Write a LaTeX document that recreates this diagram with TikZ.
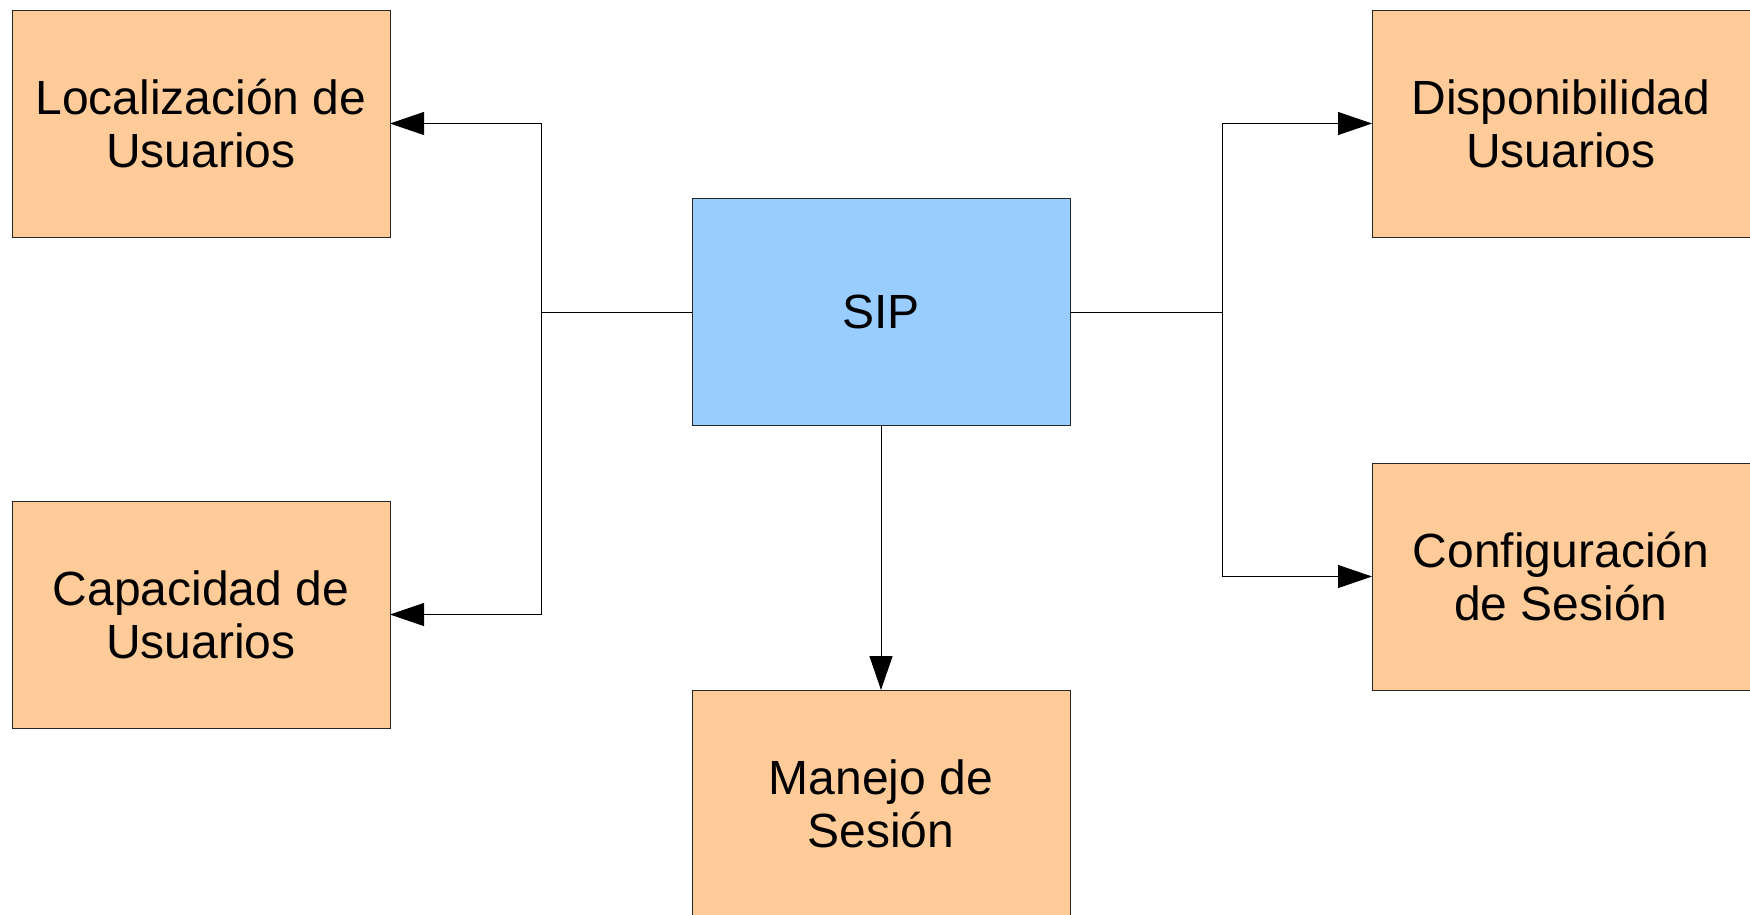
\documentclass[tikz,border=0pt]{standalone}
\usepackage{fontspec}
\setmainfont{Liberation Sans}
\usetikzlibrary{arrows.meta}
\definecolor{boxorange}{HTML}{FFCC99}
\definecolor{boxblue}{HTML}{99CCFF}
\tikzset{
  block/.style={draw=black!85, line width=1pt, minimum width=378pt, minimum height=227pt,
    inner sep=0pt, outer sep=0pt, align=center,
    font=\fontsize{48pt}{53pt}\selectfont},
  module/.style={block, fill=boxorange},
  core/.style={block, fill=boxblue},
  link/.style={draw=black, line width=1pt},
  arr/.style={link, -{Triangle[length=34pt, width=23pt]}}
}
\begin{document}
\begin{tikzpicture}[x=1pt, y=-1pt]
  \useasboundingbox (0,0) rectangle (1750,914);
  \clip (0,0) rectangle (1750,914);
  \fill[white] (0,0) rectangle (1750,914);

  % central protocol block and its functions
  \node[core]   (sip)  at (881,312)    {SIP};
  \node[module] (loc)  at (201,123.5)  {Localización de\\Usuarios};
  \node[module] (cap)  at (201,614.5)  {Capacidad de\\Usuarios};
  \node[module] (disp) at (1561,123.5) {Disponibilidad\\Usuarios};
  \node[module] (conf) at (1561,576.5) {Configuración\\de Sesión};
  \node[module] (man)  at (881,803.5)  {Manejo de\\Sesión};

  % branching points
  \coordinate (jl) at (541,312);
  \coordinate (jr) at (1222,312);

  % connectors
  \draw[link] (sip.west) -- (jl);
  \draw[arr]  (jl) |- (loc.east);
  \draw[arr]  (jl) |- (cap.east);
  \draw[link] (sip.east) -- (jr);
  \draw[arr]  (jr) |- (disp.west);
  \draw[arr]  (jr) |- (conf.west);
  \draw[arr]  (sip.south) -- (man.north);
\end{tikzpicture}
\end{document}
